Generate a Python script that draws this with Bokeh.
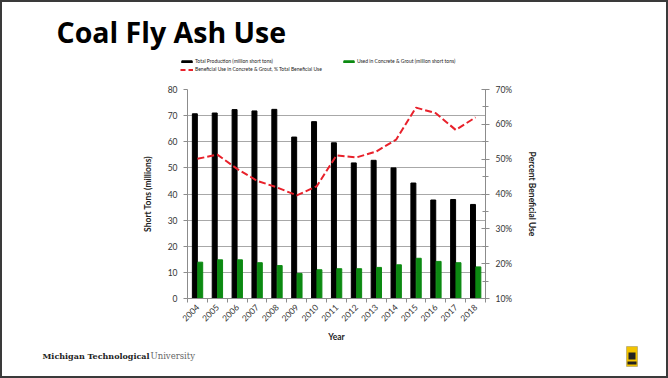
from math import pi
from bokeh.plotting import figure
from bokeh.layouts import column
from bokeh.models import (ColumnDataSource, Range1d, LinearAxis, FixedTicker, Legend, LegendItem,
                          Label, BoxAnnotation, PrintfTickFormatter)
from bokeh.transform import dodge
from bokeh.embed import file_html
from bokeh.resources import INLINE

years = [2004, 2005, 2006, 2007, 2008, 2009, 2010, 2011, 2012, 2013, 2014, 2015, 2016, 2017, 2018]
total_production = [70.7, 71.0, 72.3, 71.8, 72.4, 61.8, 67.7, 59.6, 51.9, 52.9, 50.0, 44.2, 37.7, 37.9, 36.0]
used_concrete = [13.9, 14.8, 14.8, 13.7, 12.6, 9.6, 11.0, 11.4, 11.4, 11.9, 12.9, 15.4, 14.2, 13.7, 12.1]
pct_beneficial = [50.1, 51.3, 47.2, 43.8, 41.9, 39.6, 42.2, 51.1, 50.5, 52.2, 55.6, 64.8, 63.2, 58.4, 62.0]
left_ticks = [0, 10, 20, 30, 40, 50, 60, 70, 80]
right_ticks = [10, 20, 30, 40, 50, 60, 70]
right_minor_ticks = [15, 25, 35, 45, 55, 65]

TOTAL_COLOR = "black"
USED_COLOR = "#0c8a12"
PCT_COLOR = "#e8212b"
CHART_FONT = "Lato"
W = 668
TOP_H = 81
MID_H = 264
BOT_H = 378 - TOP_H - MID_H

idx = list(range(len(years)))
src = ColumnDataSource(dict(x=idx, total=total_production, used=used_concrete, pct=pct_beneficial))


def blank_fig(h, xr=(0, 1)):
    f = figure(width=W, height=h, output_backend="svg", toolbar_location=None,
               x_range=Range1d(*xr), y_range=Range1d(0, 1),
               x_axis_location=None, y_axis_location=None, min_border=0, frame_align=False)
    f.outline_line_color = None
    f.grid.visible = False
    f.background_fill_color = None
    f.border_fill_color = None
    return f


# ---------------- top: title + legend ----------------
# x range placed away from the data so the legend's source renderers stay off-canvas
top = blank_fig(TOP_H, xr=(-100, -99))
top.add_layout(Label(x=56, y=TOP_H - 31, x_units="screen", y_units="screen", text="Coal Fly Ash Use",
                     text_font="Open Sans", text_font_style="bold", text_font_size="28.5px",
                     text_color="black", text_baseline="alphabetic"))
d_total = top.vbar(x="x", top="total", width=0.25, source=src, fill_color=TOTAL_COLOR, line_color=TOTAL_COLOR)
d_used = top.vbar(x="x", top="used", width=0.25, source=src, fill_color=USED_COLOR, line_color=USED_COLOR)
d_pct = top.line(x="x", y="pct", source=src, line_color=PCT_COLOR, line_width=2, line_dash="5 3")


def style_legend(lg):
    lg.label_text_font = CHART_FONT
    lg.label_text_font_size = "5px"
    lg.label_text_color = "#222222"
    lg.label_height = 6
    lg.glyph_height = 3
    lg.glyph_width = 13
    lg.label_standoff = 2
    lg.padding = 0
    lg.margin = 0
    lg.border_line_color = None
    lg.background_fill_alpha = 0


leg1 = Legend(items=[LegendItem(label="Total Production (million short tons)", renderers=[d_total]),
                     LegendItem(label="Used in Concrete & Grout (million short tons)", renderers=[d_used])],
              orientation="horizontal", location=(180, TOP_H - 64))
style_legend(leg1)
leg1.spacing = 69
leg2 = Legend(items=[LegendItem(label="Beneficial Use in Concrete & Grout, % Total Beneficial Use",
                                renderers=[d_pct])],
              orientation="horizontal", location=(180, TOP_H - 72))
style_legend(leg2)
top.add_layout(leg1, "center")
top.add_layout(leg2, "center")

# ---------------- middle: chart ----------------
p = figure(width=W, height=MID_H, output_backend="svg", toolbar_location=None,
           x_range=Range1d(-0.5, len(years) - 0.5), y_range=Range1d(0, 80),
           min_border_left=187, min_border_right=W - 485, min_border_top=89 - TOP_H,
           min_border_bottom=TOP_H + MID_H - 298, frame_align=False)
p.extra_y_ranges = {"pct": Range1d(10, 70)}
p.outline_line_color = None
p.background_fill_color = "white"
p.border_fill_color = None

p.vbar(x=dodge("x", -0.13, range=p.x_range), top="total", width=0.25, source=src,
       fill_color=TOTAL_COLOR, line_color=TOTAL_COLOR)
p.vbar(x=dodge("x", 0.14, range=p.x_range), top="used", width=0.25, source=src,
       fill_color=USED_COLOR, line_color=USED_COLOR)
p.line(x="x", y="pct", source=src, y_range_name="pct", line_color=PCT_COLOR,
       line_width=2, line_dash="7 3")

p.xgrid.visible = False
p.ygrid.ticker = FixedTicker(ticks=left_ticks)
p.ygrid.grid_line_color = "#a8a8a8"
p.ygrid.grid_line_width = 1

ya = p.yaxis[0]
ya.ticker = FixedTicker(ticks=left_ticks)
ya.axis_label = "Short Tons (millions)"
ya.axis_label_text_font = CHART_FONT
ya.axis_label_text_font_style = "bold"
ya.axis_label_text_font_size = "8.5px"
ya.axis_label_text_color = "#222222"
ya.axis_label_standoff = 12
ya.major_label_text_font = CHART_FONT
ya.major_label_text_font_size = "8.5px"
ya.major_label_text_color = "#333333"
ya.major_label_standoff = 6
ya.axis_line_color = "#8c8c8c"
ya.major_tick_line_color = "#8c8c8c"
ya.major_tick_out = 4
ya.major_tick_in = 0
ya.minor_tick_line_color = None

ra = LinearAxis(y_range_name="pct",
                ticker=FixedTicker(ticks=right_ticks, minor_ticks=right_minor_ticks),
                formatter=PrintfTickFormatter(format="%d%%"))
ra.axis_label = "Percent Beneficial Use"
ra.axis_label_text_font = CHART_FONT
ra.axis_label_text_font_style = "bold"
ra.axis_label_text_font_size = "8.5px"
ra.axis_label_text_color = "#222222"
ra.axis_label_standoff = 12
ra.major_label_text_font = CHART_FONT
ra.major_label_text_font_size = "8.5px"
ra.major_label_text_color = "#333333"
ra.major_label_standoff = 6
ra.axis_line_color = "#8c8c8c"
ra.major_tick_line_color = "#8c8c8c"
ra.minor_tick_line_color = "#8c8c8c"
ra.major_tick_in = 4
ra.major_tick_out = 4
ra.minor_tick_in = 3
ra.minor_tick_out = 3
p.add_layout(ra, "right")

xa = p.xaxis[0]
xa.ticker = FixedTicker(ticks=idx, minor_ticks=[i - 0.5 for i in range(len(years) + 1)])
xa.major_label_overrides = {i: str(y) for i, y in zip(idx, years)}
xa.major_label_orientation = pi / 4
xa.major_label_text_font = CHART_FONT
xa.major_label_text_font_size = "8.5px"
xa.major_label_text_color = "#333333"
xa.major_label_standoff = 3
xa.major_tick_out = 0
xa.major_tick_in = 0
xa.minor_tick_out = 4
xa.minor_tick_in = 0
xa.minor_tick_line_color = "#8c8c8c"
xa.axis_line_color = "#8c8c8c"
xa.axis_label = "Year"
xa.axis_label_text_font = CHART_FONT
xa.axis_label_text_font_style = "bold"
xa.axis_label_text_font_size = "8.5px"
xa.axis_label_text_color = "#222222"
xa.axis_label_standoff = 5

# ---------------- bottom: footer ----------------
bot = blank_fig(BOT_H)
bot.add_layout(Label(x=42, y=378 - 355, x_units="screen", y_units="screen", text="Michigan Technological",
                     text_font="DejaVu Serif", text_font_style="bold", text_font_size="8px",
                     text_color="#222222", text_baseline="middle"))
bot.add_layout(Label(x=150, y=378 - 355, x_units="screen", y_units="screen", text="University",
                     text_font="DejaVu Serif", text_font_size="8.5px",
                     text_color="#666666", text_baseline="middle"))


def sbox(l, r, t, b, **kw):
    return BoxAnnotation(left=l, right=r, top=378 - t, bottom=378 - b, left_units="screen",
                         right_units="screen", top_units="screen", bottom_units="screen", **kw)


bot.add_layout(sbox(626, 637, 346, 366, fill_color="#f2c300", fill_alpha=1, line_color="#555555", line_width=1))
bot.add_layout(sbox(628, 635, 352, 359, fill_color="#222222", fill_alpha=1, line_color=None))
bot.add_layout(sbox(627, 636, 361, 364, fill_color="#222222", fill_alpha=1, line_color=None))

layout = column(top, p, bot, spacing=0,
                styles={"box-shadow": "inset 0 0 0 2px #3a3a3a", "background-color": "white"})

open("out.html", "w").write(file_html(layout, INLINE))
